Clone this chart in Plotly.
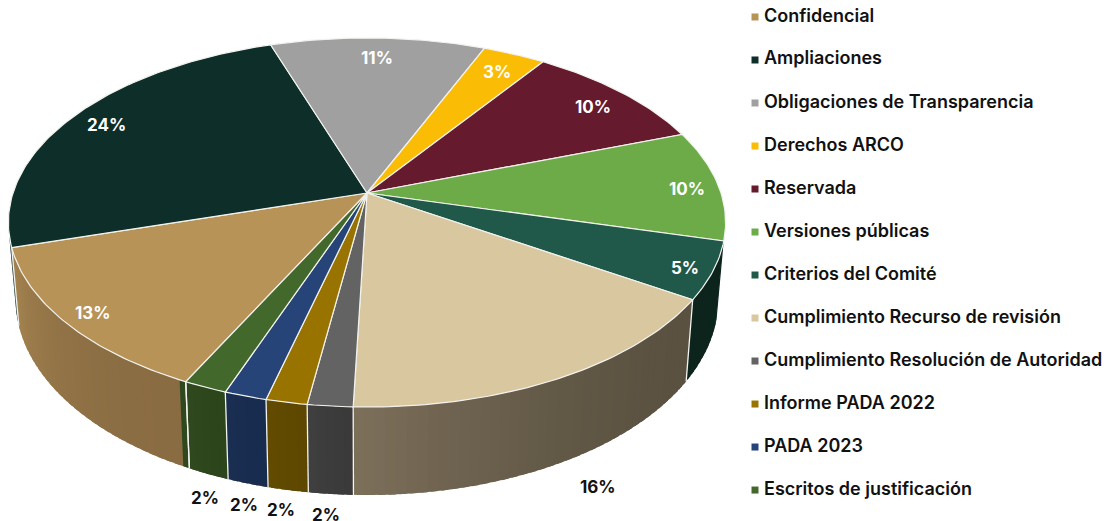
import math
import plotly.graph_objects as go

# ---- data ----
categories = ["Confidencial", "Ampliaciones", "Obligaciones de Transparencia", "Derechos ARCO",
              "Reservada", "Versiones públicas", "Criterios del Comité",
              "Cumplimiento Recurso de revisión", "Cumplimiento Resolución de Autoridad",
              "Informe PADA 2022", "PADA 2023", "Escritos de justificación"]
values = [13.1, 24.6, 11.3, 3.3, 9.9, 9.7, 5.0, 16.4, 1.75, 1.6, 1.65, 1.7]
labels = ["13%", "24%", "11%", "3%", "10%", "10%", "5%", "16%", "2%", "2%", "2%", "2%"]

# ---- style ----
colors = ["#B89358", "#0E2E2A", "#A0A0A0", "#FBBC05", "#651A2E", "#6DAB49",
          "#20594A", "#D9C7A0", "#636363", "#997300", "#264478", "#43682B"]
side_from = ["#8A6C43", "#0A2A26", None, None, None, "#0C241C", "#0C241C", "#5A5140",
             "#3A3A3A", "#5E4700", "#182C50", "#2C451B"]
side_to = ["#A5844F", "#7F9A9A", None, None, None, "#0C241C", "#0C241C", "#7D705B",
           "#404040", "#634B00", "#1A2E52", "#30491F"]
label_dx = [27, 32, -1, -17, -28, -31, -28, 43, -5, -7, -4, -3]
label_dy = [-10, 9, 20, 17.5, 15, 4, -3, 22, 21, 20, 21.5, 24]
outside = [False] * 7 + [True] * 5
FONT = "Inter"
W, H = 1115, 521
CX, CY, A, B, K = 367, 193, 354, 179.8, 0.16
START = 116.0
SHRINK = 0.98
FRONT_LO, FRONT_HI = 15.0, 168.0
LEGEND_MARK_X, LEGEND_TEXT_X = 755, 764


def top(theta):
    t = math.radians(theta)
    u, v = math.cos(t), math.sin(t)
    w = 1 - K * v
    return CX + A * u / w, CY + B * v / w


def bottom(theta):
    x, y = top(theta)
    v = math.sin(math.radians(theta))
    return CX + SHRINK * (x - CX), y + 74 + 14 * v


def hex_rgb(c):
    return [int(c[i:i + 2], 16) for i in (1, 3, 5)]


def mix(c1, c2, t):
    a, b = hex_rgb(c1), hex_rgb(c2)
    return "rgb(%d,%d,%d)" % tuple(round(a[i] + (b[i] - a[i]) * t) for i in range(3))


def arc(a, b, step=1.0):
    n = max(2, int(abs(b - a) / step) + 1)
    return [a + (b - a) * i / n for i in range(n + 1)]


bounds = [START]
for val in values:
    bounds.append(bounds[-1] + val * 3.6)
total = bounds[-1] - bounds[0]
bounds = [START + (b - START) * 360 / total for b in bounds]

fig = go.Figure()


def poly(xs, ys, fill, line, width):
    fig.add_trace(go.Scatter(x=xs, y=ys, mode="lines", fill="toself", fillcolor=fill,
                             line=dict(color=line, width=width), hoverinfo="skip", showlegend=False))


# extruded wall: overlapping quads so the gradient has no seams
for i in range(len(values)):
    if side_from[i] is None:
        continue
    for shift in (0, 360):
        a = max(bounds[i] - shift, FRONT_LO)
        b = min(bounds[i + 1] - shift, FRONT_HI)
        if b <= a:
            continue
        steps = arc(a, b, 1.5)
        for s0, s1 in zip(steps[:-1], steps[1:]):
            t = ((s0 + s1) / 2 - a) / (b - a)
            c = mix(side_from[i], side_to[i], t * t)
            end = min(s1 + 1.0, FRONT_HI)
            p = [top(s0), top(end), bottom(end), bottom(s0)]
            poly([q[0] for q in p] + [p[0][0]], [q[1] for q in p] + [p[0][1]], c, c, 0)

# wall separators
for b in bounds:
    th = b % 360
    if FRONT_LO < th < 165:
        p0, p1 = top(th), bottom(th)
        fig.add_trace(go.Scatter(x=[p0[0], p1[0]], y=[p0[1], p1[1]], mode="lines",
                                 line=dict(color="#F4F4F0", width=1.3), hoverinfo="skip", showlegend=False))

# top faces
for i in range(len(values)):
    pts = [top(t) for t in arc(bounds[i], bounds[i + 1], 1.0)]
    xs = [CX] + [p[0] for p in pts] + [CX]
    ys = [CY] + [p[1] for p in pts] + [CY]
    poly(xs, ys, colors[i], "#F2F2EE", 1.2)

# legend drawn on a categorical axis
fig.add_trace(go.Scatter(x=[LEGEND_MARK_X] * len(categories), y=categories, yaxis="y2", mode="markers",
                         marker=dict(symbol="square", size=7, color=colors),
                         hoverinfo="skip", showlegend=False))
fig.add_trace(go.Scatter(x=[LEGEND_TEXT_X] * len(categories), y=categories, yaxis="y2", mode="text",
                         text=categories, textposition="middle right", cliponaxis=False,
                         textfont=dict(family=FONT, size=18, color="#111111", weight=600),
                         hoverinfo="skip", showlegend=False))

anns = []
for i, lab in enumerate(labels):
    mid = (bounds[i] + bounds[i + 1]) / 2
    x, y = bottom(mid) if outside[i] else top(mid)
    anns.append(dict(x=x, y=y, xref="x", yref="y", text=lab, showarrow=False,
                     xshift=label_dx[i], yshift=-label_dy[i],
                     font=dict(family=FONT, size=17, weight=700,
                               color="#111111" if outside[i] else "#FFFFFF")))

fig.update_layout(
    width=W, height=H, margin=dict(l=0, r=0, t=0, b=0), autosize=False,
    plot_bgcolor="white", paper_bgcolor="white", showlegend=False, annotations=anns,
    xaxis=dict(range=[0, W], visible=False, fixedrange=True),
    yaxis=dict(range=[H, 0], visible=False, fixedrange=True),
    yaxis2=dict(type="category", categoryorder="array", categoryarray=categories,
                range=[11.72, -0.395], overlaying="y", visible=False, fixedrange=True),
)
fig.write_html("out.html", config=dict(displayModeBar=False),
               post_script="document.body.style.margin='0';document.documentElement.style.overflow='hidden';")
